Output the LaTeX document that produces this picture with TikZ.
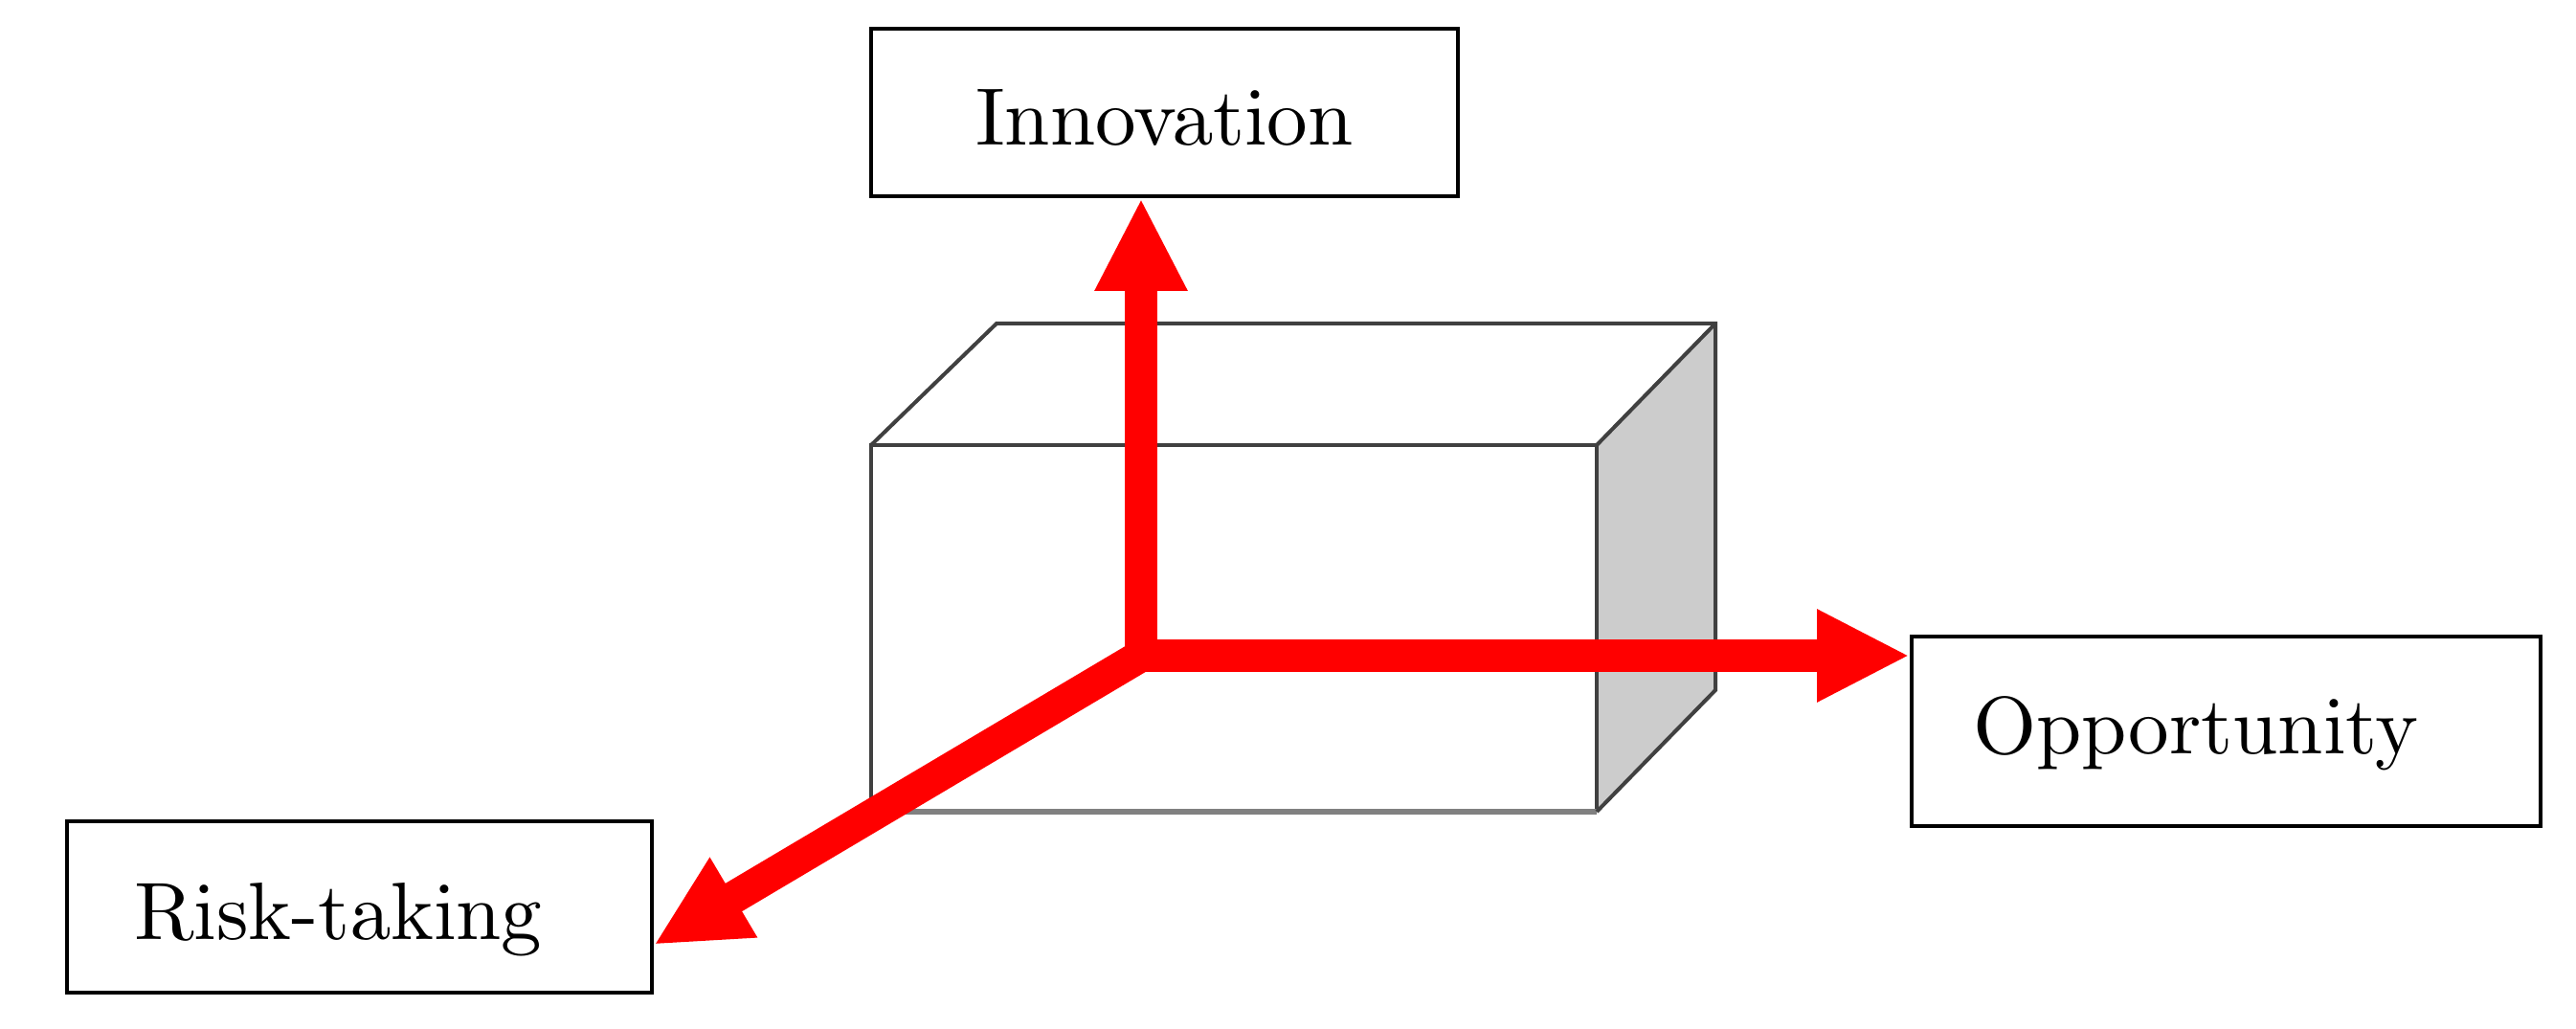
\documentclass[tikz,border=0pt]{standalone}
\usetikzlibrary{arrows.meta,calc}
\definecolor{edgec}{RGB}{64,64,64}
\definecolor{edgeb}{RGB}{128,128,128}
\definecolor{sidef}{RGB}{204,204,204}
\definecolor{arr}{RGB}{255,0,0}
\font\labfont=cmr10 at 24.2pt
\begin{document}
\begin{tikzpicture}[x=1cm,y=1cm,
  lab/.style={draw=black,line width=0.04cm,inner xsep=0pt,inner ysep=0pt,
    font=\labfont},
  axis/.style={draw=arr,line width=0.34cm,-{Triangle[length=0.97cm,width=0.9cm]}},
  cubeedge/.style={draw=edgec,line width=0.04cm}]
\useasboundingbox (0,0) rectangle (26.91,-10.75);
% cube
\coordinate (F1) at (9.10,-4.65);
\coordinate (F2) at (16.68,-4.65);
\coordinate (F3) at (16.68,-8.48);
\coordinate (F4) at (9.10,-8.48);
\coordinate (B1) at (10.41,-3.38);
\coordinate (B2) at (17.92,-3.38);
\coordinate (B3) at (17.92,-7.21);
\fill[sidef] (F2)--(B2)--(B3)--(F3)--cycle;
\draw[cubeedge] (F4)--(F1)--(F2)--(F3);
\draw[draw=edgeb,line width=0.06cm] (F4)--(F3);
\draw[cubeedge] (F1)--(B1)--(B2)--(B3)--(F3);
\draw[cubeedge] (F2)--(B2);
% labels
\node[lab,minimum width=6.13cm,minimum height=1.75cm,text height=0.79cm,text depth=0.10cm]
  (inn) at (12.165,-1.175) {Innovation};
\node[lab,inner xsep=0.64cm,text width=5.29cm,align=left,minimum height=1.98cm,
  text height=0.58cm,text depth=0.10cm] (opp) at (23.255,-7.64) {Opportunity};
\node[lab,inner xsep=0.70cm,text width=4.71cm,align=left,minimum height=1.79cm,
  text height=0.77cm,text depth=0.10cm] (risk) at (3.755,-9.475) {Risk-taking};
% axes
\coordinate (O) at (11.92,-6.85);
\coordinate (rt) at ($(risk.south east)+(0,0.52)$);
\draw[axis] ($(O)+(0,-0.17)$) -- (O |- inn.south);
\draw[axis] (O) -- (O -| opp.west);
\draw[axis] (O) -- (rt);
\end{tikzpicture}
\end{document}
